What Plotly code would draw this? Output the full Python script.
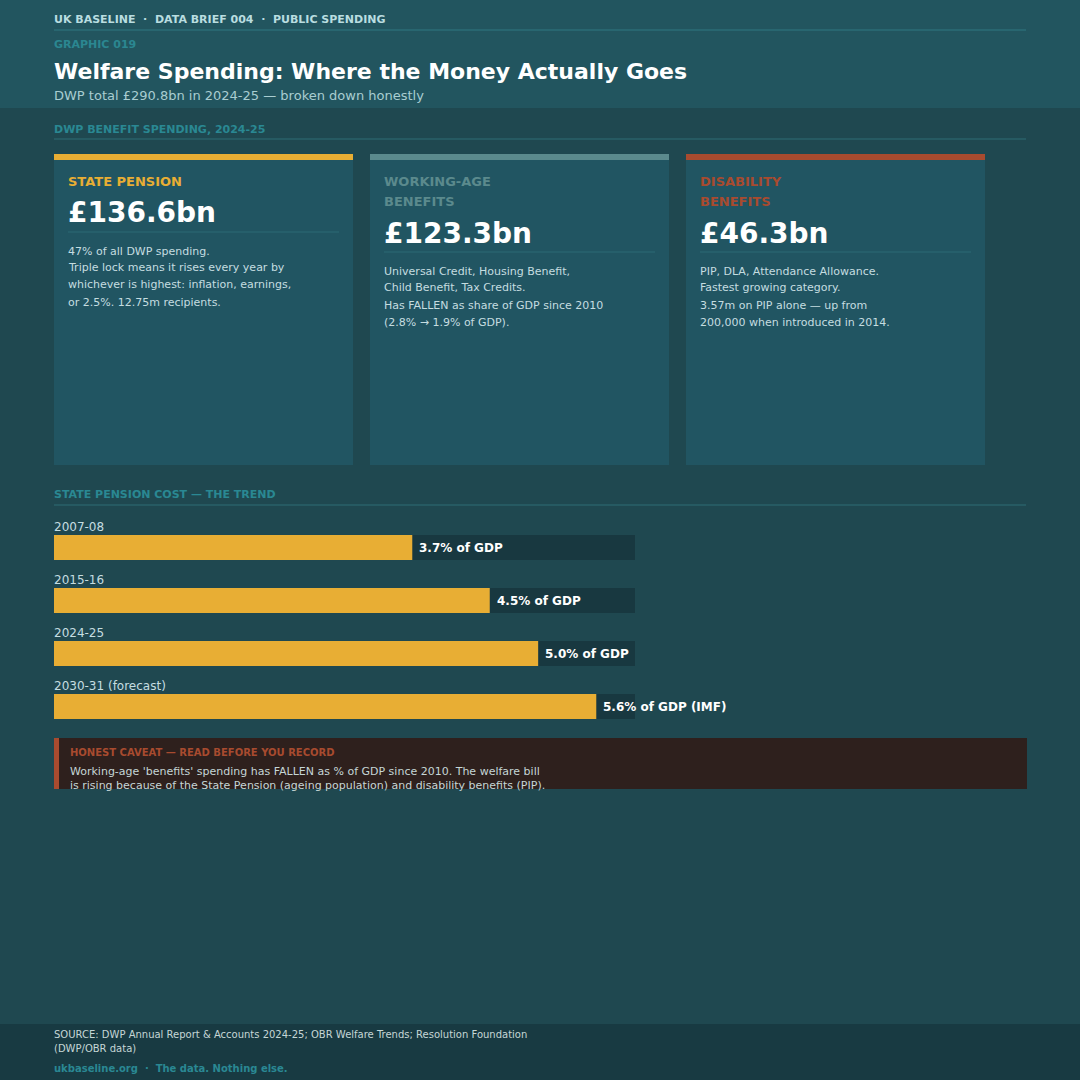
import plotly.graph_objects as go

W, H = 1080, 1080
FONT = "DejaVu Sans"

# card data
card_titles = [["STATE PENSION"], ["WORKING-AGE", "BENEFITS"], ["DISABILITY", "BENEFITS"]]
card_values = ["£136.6bn", "£123.3bn", "£46.3bn"]
card_colors = ["#e8ae34", "#5b8a8d", "#a84b2f"]
card_body = [
    ["47% of all DWP spending.",
     "Triple lock means it rises every year by",
     "whichever is highest: inflation, earnings,",
     "or 2.5%. 12.75m recipients."],
    ["Universal Credit, Housing Benefit,",
     "Child Benefit, Tax Credits.",
     "Has FALLEN as share of GDP since 2010",
     "(2.8% \u2192 1.9% of GDP)."],
    ["PIP, DLA, Attendance Allowance.",
     "Fastest growing category.",
     "3.57m on PIP alone \u2014 up from",
     "200,000 when introduced in 2014."],
]

# trend data
years = ["2007-08", "2015-16", "2024-25", "2030-31 (forecast)"]
gdp_share = [3.7, 4.5, 5.0, 5.6]
bar_labels = ["3.7% of GDP", "4.5% of GDP", "5.0% of GDP", "5.6% of GDP (IMF)"]
scale_max = 6.0

caveat_title = "HONEST CAVEAT \u2014 READ BEFORE YOU RECORD"
caveat_lines = ["Working-age 'benefits' spending has FALLEN as % of GDP since 2010. The welfare bill",
                "is rising because of the State Pension (ageing population) and disability benefits (PIP)."]


def px(x):
    return x / W


def py(y):
    return 1 - y / H


shapes = []
annotations = []


def rect(x0, y0, x1, y1, color):
    shapes.append(dict(type="rect", xref="paper", yref="paper", x0=px(x0), x1=px(x1),
                       y0=py(y1), y1=py(y0), fillcolor=color, line=dict(width=0), layer="below"))


def hline(x0, x1, y, color):
    shapes.append(dict(type="line", xref="paper", yref="paper", x0=px(x0), x1=px(x1),
                       y0=py(y), y1=py(y), line=dict(color=color, width=1), layer="below"))


def text(x, y, s, size, color, bold=False):
    if bold:
        s = "<b>" + s + "</b>"
    annotations.append(dict(xref="paper", yref="paper", x=px(x), y=py(y), text=s,
                            showarrow=False, xanchor="left", yanchor="middle", xshift=-2,
                            font=dict(family=FONT, size=size, color=color)))


# header band
rect(0, 0, W, 108, "#22555f")
text(54, 19, "UK BASELINE  \u00b7  DATA BRIEF 004  \u00b7  PUBLIC SPENDING", 11, "#b9dde0", True)
hline(54, 1026, 30, "#2f7882")
text(54, 45, "GRAPHIC 019", 11, "#2b8791", True)
text(54, 72, "Welfare Spending: Where the Money Actually Goes", 22, "#ffffff", True)
text(54, 95, "DWP total £290.8bn in 2024-25 \u2014 broken down honestly", 13, "#a9cdd1")

# section 1
text(54, 129, "DWP BENEFIT SPENDING, 2024-25", 11, "#2a8893", True)
hline(54, 1026, 139, "#2f6c74")

card_x = [54, 370, 686]
for i in range(3):
    x0 = card_x[i]
    rect(x0, 154, x0 + 299, 465, "#215562")
    rect(x0, 154, x0 + 299, 160, card_colors[i])
    y = 181
    for j, line in enumerate(card_titles[i]):
        text(x0 + 14, y + 20 * j, line, 13, card_colors[i], True)
    y = y + 20 * (len(card_titles[i]) - 1) + 32
    text(x0 + 14, y, card_values[i], 28, "#ffffff", True)
    hline(x0 + 14, x0 + 285, y + 19, "#2c6a74")
    for j, line in enumerate(card_body[i]):
        text(x0 + 14, y + 38 + 17 * j, line, 11, "#c5dde0")

# section 2
text(54, 495, "STATE PENSION COST \u2014 THE TREND", 11, "#2a8893", True)
hline(54, 1026, 505, "#2f6c74")

pos = list(range(len(years)))
fig = go.Figure()
fig.add_trace(go.Bar(x=[scale_max] * len(years), y=pos, orientation="h", width=25 / 53,
                     marker=dict(color="#183840", line=dict(width=0)), hoverinfo="skip"))
fig.add_trace(go.Bar(x=gdp_share, y=pos, orientation="h", width=25 / 53,
                     marker=dict(color="#e8ae34", line=dict(width=0))))

for i in pos:
    annotations.append(dict(xref="x", yref="y", x=gdp_share[i], y=i, text="<b>" + bar_labels[i] + "</b>",
                            showarrow=False, xanchor="left", yanchor="middle", xshift=5,
                            font=dict(family=FONT, size=12, color="#ffffff")))
    annotations.append(dict(xref="x", yref="y", x=0, y=i, text=years[i], showarrow=False,
                            xanchor="left", yanchor="middle", yshift=21, xshift=-2,
                            font=dict(family=FONT, size=12, color="#c5dde0")))

# caveat box
rect(54, 738, 1027, 789, "#2e201d")
rect(54, 738, 59, 789, "#a84b2f")
text(70, 752, caveat_title, 10, "#a84b2f", True)
text(70, 771, caveat_lines[0], 11, "#c5d6d6")
text(70, 785, caveat_lines[1], 11, "#c5d6d6")

# footer
rect(0, 1024, W, H, "#183a42")
text(54, 1034, "SOURCE: DWP Annual Report & Accounts 2024-25; OBR Welfare Trends; Resolution Foundation", 10, "#c5d6d6")
text(54, 1048, "(DWP/OBR data)", 10, "#c5d6d6")
text(54, 1068, "ukbaseline.org  \u00b7  The data. Nothing else.", 10, "#2a8893", True)

fig.update_layout(
    width=W, height=H,
    margin=dict(l=0, r=0, t=0, b=0),
    paper_bgcolor="#1f4850",
    plot_bgcolor="rgba(0,0,0,0)",
    barmode="overlay",
    showlegend=False,
    xaxis=dict(domain=[px(54), px(635)], range=[0, scale_max], visible=False, fixedrange=True),
    yaxis=dict(domain=[py(733), py(521)], range=[3.5, -0.5], visible=False, fixedrange=True),
    shapes=shapes,
    annotations=annotations,
)

fig.write_html("out.html", config={"displayModeBar": False},
               post_script="document.body.style.margin='0';document.body.style.overflow='hidden';")
